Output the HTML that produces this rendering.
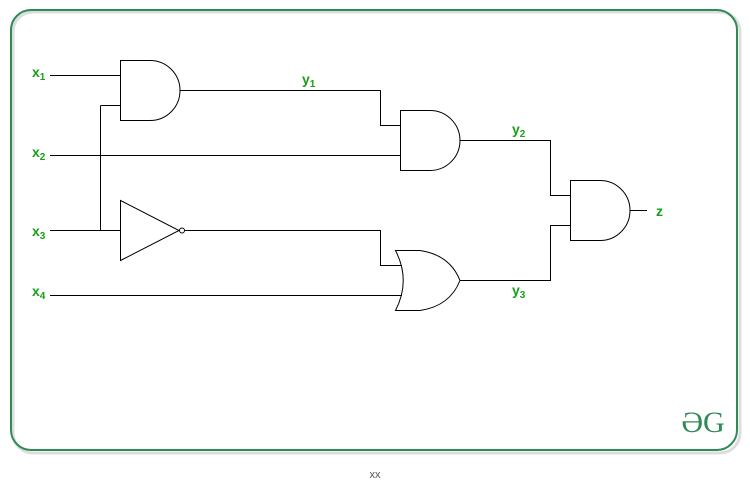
<!DOCTYPE html>
<html><head><style>
html,body{margin:0;padding:0;background:#fff;}
svg{display:block;}
text{font-family:"Liberation Sans",sans-serif;}
.g{fill:#1a9e1a;font-weight:bold;font-size:14px;}
.s{font-size:10px;}
</style></head><body>
<svg width="750" height="482" viewBox="0 0 750 482">
<rect x="13" y="12" width="727" height="441" rx="20" fill="none" stroke="#ddd" stroke-width="3"/>
<rect x="11" y="10" width="726" height="440" rx="20" fill="none" stroke="#2e8b57" stroke-width="2"/>
<g fill="none" stroke="#000" stroke-width="1">
<!-- AND1 -->
<path d="M120.5 60.5H150a30 30 0 0 1 0 60H120.5Z"/>
<path d="M50 75.5H120.5M100.5 105.5H120.5M100.5 105.5V230.5M50 230.5H120.5"/>
<path d="M180 90.5H380.5V125.5H400.5"/>
<!-- AND2 -->
<path d="M400.5 110.5H430a30 30 0 0 1 0 60H400.5Z"/>
<path d="M50 155.5H400.5"/>
<path d="M460 140.5H550.5V195.5H570.5"/>
<!-- AND3 -->
<path d="M570.5 180.5H600a30 30 0 0 1 0 60H570.5Z"/>
<path d="M630 210.5H647"/>
<!-- NOT -->
<path d="M120.5 200.5L179 230.5L120.5 260.5Z"/>
<circle cx="182" cy="230.5" r="2.5"/>
<path d="M185 230.5H380.5V265.5H402"/>
<!-- OR -->
<path d="M395.5 250.5H420Q450 255 460 280.5Q450 306 420 310.5H395.5Q411 280.5 395.5 250.5Z"/>
<path d="M50 295.5H402"/>
<path d="M460 280.5H550.5V225.5H570.5"/>
</g>
<text class="g" x="32" y="77">x<tspan class="s" dy="3">1</tspan></text>
<text class="g" x="32" y="157">x<tspan class="s" dy="3">2</tspan></text>
<text class="g" x="32" y="236">x<tspan class="s" dy="3">3</tspan></text>
<text class="g" x="32" y="296">x<tspan class="s" dy="3">4</tspan></text>
<text class="g" x="302" y="84">y<tspan class="s" dy="3">1</tspan></text>
<text class="g" x="512" y="134">y<tspan class="s" dy="3">2</tspan></text>
<text class="g" x="512" y="295">y<tspan class="s" dy="3">3</tspan></text>
<text class="g" x="656" y="216">z</text>
<text x="703" y="432" text-anchor="middle" style="font-family:'Liberation Serif',serif;font-size:30px;fill:#2e8b57"><tspan>Ə</tspan><tspan>G</tspan></text>
<text x="375" y="478" text-anchor="middle" style="font-size:11px;fill:#555">xx</text>
</svg>
</body></html>
